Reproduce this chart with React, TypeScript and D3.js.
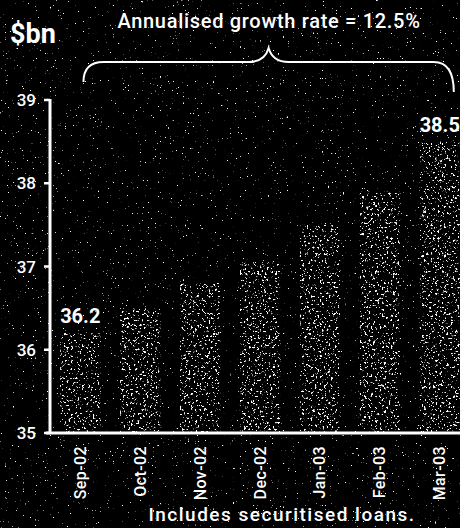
import React from "react";
import * as d3 from "d3";

// Monthly lending balance, $bn
const months = ["Sep-02", "Oct-02", "Nov-02", "Dec-02", "Jan-03", "Feb-03", "Mar-03"];
const balances = [36.2, 36.5, 36.8, 37.05, 37.5, 37.9, 38.5];
const yTicks = [35, 36, 37, 38, 39];
const valueLabels = ["Sep-02", "Mar-03"];
const unitLabel = "$bn";
const headline = "Annualised growth rate = 12.5%";
const footnote = "Includes securitised loans.";

const W = 460;
const H = 528;
const FONT = "Roboto, 'DejaVu Sans', sans-serif";

export default function App() {
  const x = d3
    .scaleBand<string>()
    .domain(months)
    .range([50, 470])
    .paddingInner(0.33)
    .paddingOuter(0.17);
  const y = d3.scaleLinear().domain([35, 39]).range([433, 100]);
  const bw = x.bandwidth();
  const fmt = d3.format(".1f");

  // brace spanning the first to the last month
  const bx0 = (x(months[0]) as number) + bw * 0.58;
  const bx1 = (x(months[months.length - 1]) as number) + bw * 0.85;
  const bMid = (bx0 + bx1) / 2;
  const bLine = 62;
  const brace = d3.path();
  brace.moveTo(bx0, 82);
  brace.quadraticCurveTo(bx0, bLine, bx0 + 20, bLine);
  brace.lineTo(bMid - 20, bLine);
  brace.quadraticCurveTo(bMid - 4, bLine, bMid, 48);
  brace.quadraticCurveTo(bMid + 4, bLine, bMid + 20, bLine);
  brace.lineTo(bx1 - 20, bLine);
  brace.quadraticCurveTo(bx1, bLine, bx1, 92);

  return (
    <div style={{ position: "fixed", left: 0, top: 0, width: W, height: H, background: "#000" }}>
      <svg width={W} height={H} style={{ display: "block" }} fontFamily={FONT}>
        <defs>
          <filter id="barSpeckle" x="0" y="0" width="1" height="1">
            <feTurbulence type="fractalNoise" baseFrequency="0.45" numOctaves="3" seed="7" result="noise" />
            <feColorMatrix
              in="noise"
              type="matrix"
              values="0 0 0 0 1  0 0 0 0 1  0 0 0 0 1  14 0 0 0 -8.7"
              result="specks"
            />
            <feComposite in="specks" in2="SourceAlpha" operator="in" />
          </filter>
          <filter id="bgSpeckle" x="0" y="0" width="1" height="1">
            <feTurbulence type="fractalNoise" baseFrequency="0.6" numOctaves="2" seed="19" result="noise" />
            <feColorMatrix
              in="noise"
              type="matrix"
              values="0 0 0 0 1  0 0 0 0 1  0 0 0 0 1  14 0 0 0 -10.2"
              result="specks"
            />
            <feComposite in="specks" in2="SourceAlpha" operator="in" />
          </filter>
        </defs>

        <rect width={W} height={H} fill="#000" />
        <rect width={W} height={H} fill="#fff" filter="url(#bgSpeckle)" />

        {/* bars */}
        {months.map((m, i) => (
          <rect
            key={m}
            x={x(m)}
            y={y(balances[i])}
            width={bw}
            height={y(35) - y(balances[i])}
            fill="#fff"
            filter="url(#barSpeckle)"
          />
        ))}

        {/* value labels */}
        {months.map((m, i) =>
          valueLabels.includes(m) ? (
            <text
              key={m}
              x={(x(m) as number) + bw / 2}
              y={y(balances[i]) - 10}
              textAnchor="middle"
              fill="#fff"
              fontSize={20}
              fontWeight={700}
            >
              {fmt(balances[i])}
            </text>
          ) : null
        )}

        {/* y axis */}
        <line x1={50} x2={50} y1={y(39) - 1} y2={y(35)} stroke="#fff" strokeWidth={3} />
        {yTicks.map((t) => (
          <g key={t}>
            <line x1={44} x2={50} y1={y(t)} y2={y(t)} stroke="#fff" strokeWidth={2.5} />
            <text
              x={36}
              y={y(t)}
              textAnchor="end"
              dominantBaseline="central"
              fill="#fff"
              fontSize={17}
              fontWeight={500}
            >
              {t}
            </text>
          </g>
        ))}

        {/* x axis */}
        <line x1={46} x2={W} y1={y(35)} y2={y(35)} stroke="#fff" strokeWidth={3} />
        {months.map((m) => (
          <text
            key={m}
            transform={`translate(${(x(m) as number) + bw / 2},446) rotate(-90)`}
            textAnchor="end"
            dominantBaseline="central"
            fill="#fff"
            fontSize={16}
            fontWeight={500}
            letterSpacing={0.4}
          >
            {m}
          </text>
        ))}

        {/* headings and annotation */}
        <text x={10} y={43} fill="#fff" fontSize={27} fontWeight={700}>
          {unitLabel}
        </text>
        <text
          x={269}
          y={28}
          textAnchor="middle"
          fill="#fff"
          fontSize={20}
          fontWeight={500}
          letterSpacing={0.7}
        >
          {headline}
        </text>
        <path d={brace.toString()} fill="none" stroke="#fff" strokeWidth={2} />
        <text
          x={282}
          y={521}
          textAnchor="middle"
          fill="#fff"
          fontSize={19}
          fontWeight={500}
          letterSpacing={1.5}
        >
          {footnote}
        </text>
      </svg>
    </div>
  );
}
